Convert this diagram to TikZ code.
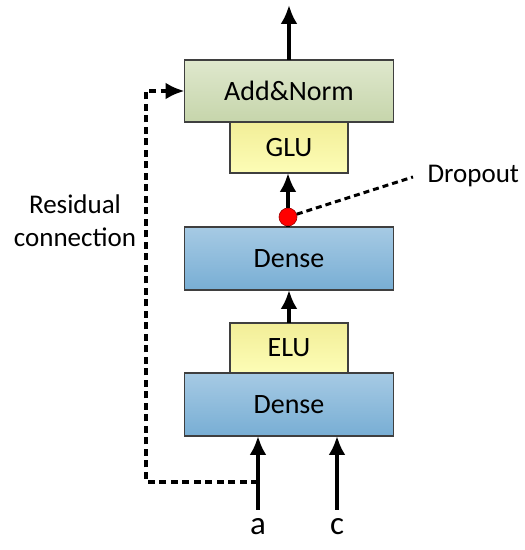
\documentclass[tikz,border=0pt]{standalone}
\usepackage{fontspec}
\setmainfont{Carlito}
\usepackage{xcolor}
\usetikzlibrary{arrows.meta,positioning,calc}
\definecolor{boxline}{HTML}{3F3F3F}
\definecolor{addtop}{HTML}{DFE8CD}
\definecolor{addbot}{HTML}{C6D5AB}
\definecolor{glutop}{HTML}{F2EE98}
\definecolor{glubot}{HTML}{FDFDB6}
\definecolor{densetop}{HTML}{A6CAE4}
\definecolor{densebot}{HTML}{78AED4}
\tikzset{
  blk/.style={draw=boxline,line width=1.6pt,outer sep=0pt,inner sep=0pt,
    font=\fontsize{28}{33}\selectfont},
  addbox/.style={blk,top color=addtop,bottom color=addbot,
    minimum width=209pt,minimum height=62pt},
  gatebox/.style={blk,top color=glutop,bottom color=glubot,
    minimum width=118pt,minimum height=51pt},
  densebox/.style={blk,top color=densetop,bottom color=densebot,
    minimum width=209pt,minimum height=63pt},
  % signal arrows
  flow/.style={line width=4pt,-{Latex[length=19pt,width=17pt]}},
  % skip path
  skipline/.style={line width=4pt,dash pattern=on 7pt off 4.5pt,
    -{Latex[length=19pt,width=17pt]}},
  dropline/.style={line width=3pt,dash pattern=on 6pt off 4pt},
  dropdot/.style={circle,draw=red!60!black,fill=red,line width=0.6pt,
    minimum size=18pt,inner sep=0pt},
  lbl/.style={font=\fontsize{27}{33}\selectfont},
  inlbl/.style={font=\fontsize{33}{38}\selectfont},
}
\begin{document}
\begin{tikzpicture}[x=1pt,y=1pt]
\useasboundingbox (0,0) rectangle (525,550);

%% ---- gate part ----
\node[addbox] (addnorm) at (289,459) {Add\&Norm};
\node[gatebox,below=0pt of addnorm] (glu) {GLU};
\node[dropdot] (drop) at (288,333) {};

%% ---- dense stack ----
\node[densebox] (dense2) at (289,291.5) {Dense};
\node[gatebox,below=33pt of dense2,minimum height=50pt] (elu) {ELU};
\node[densebox,below=0pt of elu] (dense1) {Dense};

%% ---- inputs / output ----
\coordinate (ina) at (258,40);
\coordinate (inc) at (337,40);
\coordinate (out) at (289,545);
\coordinate (skipa) at (258,68);
\coordinate (skipb) at (146,68);
\coordinate (skipc) at (146,459);
\coordinate (dropend) at (413,373);
\node[inlbl] (la) at (258,23) {a};
\node[inlbl] (lc) at (337,23) {c};

%% ---- arrows ----
\draw[flow] (ina) -- (ina |- dense1.south);
\draw[flow] (inc) -- (inc |- dense1.south);
\draw[flow] (elu.north) -- (elu.north |- dense2.south);
\draw[line width=4pt] (dense2.north -| drop) -- (drop);
\draw[flow] (drop) -- (drop |- glu.south);
\draw[flow] (addnorm.north) -- (out);

%% ---- residual ----
\draw[skipline] (skipa) -- (skipb) -- (skipc) -- (addnorm.west);
\node[lbl,align=center] (resid) at (75,329) {Residual\\connection};

%% ---- dropout ----
\draw[dropline] (drop) -- (dropend);
\node[lbl,anchor=west] (droptxt) at (424,374) {Dropout};
\end{tikzpicture}
\end{document}
